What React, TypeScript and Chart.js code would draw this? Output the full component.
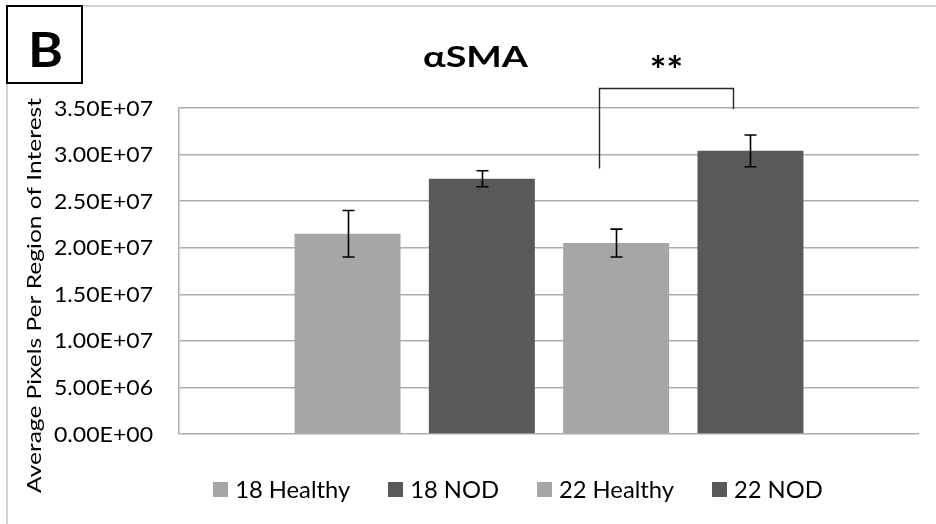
import React, { useEffect, useRef } from "react";
import { Chart, registerables } from "chart.js";

Chart.register(...registerables);

const categories = [""];
const seriesNames = ["18 Healthy", "18 NOD", "22 Healthy", "22 NOD"];
const seriesMeans = [2.15e7, 2.74e7, 2.05e7, 3.04e7];
const seriesErrors = [0.25e7, 0.086e7, 0.15e7, 0.17e7];
const seriesColors = ["#a6a6a6", "#595959", "#a6a6a6", "#595959"];
const yTicksMin = 0;
const yTicksMax = 3.5e7;
const yTicksStep = 5e6;
const chartTitle = "αSMA";
const panelLabel = "B";
const yAxisTitle = "Average Pixels Per Region of Interest";
// significance bracket between series 3 and 4 (data units)
const bracketFrom = 2;
const bracketTo = 3;
const bracketTop = 3.72e7;
const bracketLeftEnd = 2.85e7;
const bracketRightEnd = 3.49e7;
const bracketLabel = "**";

const FONT = "Lato, 'Open Sans', sans-serif";

function sci(v: number): string {
  if (v === 0) return "0.00E+00";
  const exp = Math.floor(Math.log10(Math.abs(v)));
  const mant = v / Math.pow(10, exp);
  const sign = exp < 0 ? "-" : "+";
  const e = Math.abs(exp).toString().padStart(2, "0");
  return mant.toFixed(2) + "E" + sign + e;
}

// Draw text with horizontal stretch sx; (x, cy) anchor; cy = vertical center of cap box
function drawText(
  ctx: CanvasRenderingContext2D,
  text: string,
  x: number,
  cy: number,
  font: string,
  sx: number,
  align: "left" | "center" | "right",
  rotate = 0
) {
  ctx.save();
  ctx.font = font;
  ctx.textAlign = "left";
  ctx.textBaseline = "alphabetic";
  const capM = ctx.measureText("H");
  const capH = capM.actualBoundingBoxAscent;
  const w = ctx.measureText(text).width;
  ctx.translate(x, cy);
  if (rotate) ctx.rotate(rotate);
  ctx.scale(sx, 1);
  let dx = 0;
  if (align === "center") dx = -w / 2;
  else if (align === "right") dx = -w;
  ctx.fillText(text, dx, capH / 2);
  ctx.restore();
}

function stretchFor(ctx: CanvasRenderingContext2D, text: string, font: string, target: number) {
  ctx.save();
  ctx.font = font;
  const w = ctx.measureText(text).width;
  ctx.restore();
  return target / w;
}

const decorPlugin = {
  id: "decor",
  afterDraw(chart: any) {
    const ctx: CanvasRenderingContext2D = chart.ctx;
    const yScale = chart.scales.y;
    ctx.save();

    // outer frame
    ctx.strokeStyle = "#c4c4c4";
    ctx.lineWidth = 1.5;
    ctx.strokeRect(7, 6, 1000, 1000);

    // panel label box
    ctx.fillStyle = "#fff";
    ctx.fillRect(7, 6, 75, 77);
    ctx.strokeStyle = "#000";
    ctx.lineWidth = 2;
    ctx.strokeRect(7, 6, 75, 77);
    ctx.fillStyle = "#000";
    const bFont = `bold 48px ${FONT}`;
    drawText(ctx, panelLabel, 45.5, 49.5, bFont, stretchFor(ctx, panelLabel, bFont, 35), "center");

    // title
    const tFont = `bold 28px ${FONT}`;
    drawText(ctx, chartTitle, 475.5, 56.5, tFont, stretchFor(ctx, chartTitle, tFont, 105), "center");

    // y tick labels
    const tickFont = `21px ${FONT}`;
    const tickSx = stretchFor(ctx, "3.50E+07", tickFont, 99);
    ctx.fillStyle = "#000";
    yScale.ticks.forEach((t: any, i: number) => {
      const y = yScale.getPixelForTick(i);
      drawText(ctx, sci(t.value), 153, y, tickFont, tickSx, "right");
    });

    // y axis title
    const yFont = `19px ${FONT}`;
    drawText(
      ctx,
      yAxisTitle,
      33.5,
      295.5,
      yFont,
      stretchFor(ctx, yAxisTitle, yFont, 395),
      "center",
      -Math.PI / 2
    );

    // error bars
    ctx.strokeStyle = "#000";
    ctx.lineWidth = 1.6;
    for (let i = 0; i < seriesMeans.length; i++) {
      const bar = chart.getDatasetMeta(i).data[0];
      if (!bar) continue;
      const x = Math.round(bar.x) + 0.5;
      const yt = yScale.getPixelForValue(seriesMeans[i] + seriesErrors[i]);
      const yb = yScale.getPixelForValue(seriesMeans[i] - seriesErrors[i]);
      ctx.beginPath();
      ctx.moveTo(x, yt);
      ctx.lineTo(x, yb);
      ctx.moveTo(x - 6, yt);
      ctx.lineTo(x + 6, yt);
      ctx.moveTo(x - 6, yb);
      ctx.lineTo(x + 6, yb);
      ctx.stroke();
    }

    // significance bracket
    const b1 = chart.getDatasetMeta(bracketFrom).data[0];
    const b2 = chart.getDatasetMeta(bracketTo).data[0];
    if (b1 && b2) {
      const xl = Math.round(b1.x - 17) + 0.5;
      const xr = Math.round(b2.x - 17) + 0.5;
      const yTop = Math.round(yScale.getPixelForValue(bracketTop)) + 0.5;
      ctx.strokeStyle = "#262626";
      ctx.lineWidth = 1.4;
      ctx.beginPath();
      ctx.moveTo(xl, yScale.getPixelForValue(bracketLeftEnd));
      ctx.lineTo(xl, yTop);
      ctx.lineTo(xr, yTop);
      ctx.lineTo(xr, yScale.getPixelForValue(bracketRightEnd));
      ctx.stroke();
      ctx.fillStyle = "#000";
      const sFont = `bold 30px ${FONT}`;
      ctx.save();
      ctx.font = sFont;
      ctx.textAlign = "center";
      ctx.textBaseline = "alphabetic";
      const m = ctx.measureText(bracketLabel);
      const sx = 31 / (m.actualBoundingBoxLeft + m.actualBoundingBoxRight);
      const cyStar = yTop - 26;
      ctx.translate((xl + xr) / 2, cyStar);
      ctx.scale(sx, 1.25);
      ctx.fillText(bracketLabel, 0, (m.actualBoundingBoxAscent - m.actualBoundingBoxDescent) / 2);
      ctx.restore();
    }

    // legend
    const lFont = `23px ${FONT}`;
    const lSx = stretchFor(ctx, "18 Healthy", lFont, 115);
    ctx.font = lFont;
    const box = 15;
    const gapBoxText = 7;
    const gapItems = 38;
    const widths = seriesNames.map((n) => ctx.measureText(n).width * lSx);
    const total =
      widths.reduce((a, w) => a + box + gapBoxText + w, 0) + gapItems * (seriesNames.length - 1);
    let x = 518 - total / 2;
    const cy = 489.5;
    for (let i = 0; i < seriesNames.length; i++) {
      ctx.fillStyle = seriesColors[i];
      ctx.fillRect(Math.round(x), cy - box / 2, box, box);
      x += box + gapBoxText;
      ctx.fillStyle = "#000";
      drawText(ctx, seriesNames[i], x, cy, lFont, lSx, "left");
      x += widths[i] + gapItems;
    }
    ctx.restore();
  },
};

export default function App() {
  const ref = useRef<HTMLCanvasElement | null>(null);
  useEffect(() => {
    document.body.style.margin = "0";
    const canvas = ref.current;
    if (!canvas) return;
    const chart = new Chart(canvas, {
      type: "bar",
      data: {
        labels: categories,
        datasets: seriesNames.map((name, i) => ({
          label: name,
          data: [seriesMeans[i]],
          backgroundColor: seriesColors[i],
          borderWidth: 0,
          categoryPercentage: 0.726,
          barPercentage: 0.789,
        })),
      },
      options: {
        responsive: false,
        maintainAspectRatio: false,
        devicePixelRatio: 1,
        animation: false,
        events: [],
        layout: { padding: { left: 8, right: 17, top: 108, bottom: 90 } },
        plugins: {
          legend: { display: false },
          title: { display: false },
          tooltip: { enabled: false },
        },
        scales: {
          x: { display: false },
          y: {
            min: yTicksMin,
            max: yTicksMax,
            afterFit(scale: any) {
              scale.width = 171;
            },
            ticks: {
              display: false,
              stepSize: yTicksStep,
              callback: (v: any) => sci(Number(v)),
            },
            grid: { color: "#adadad", lineWidth: 1.5, drawTicks: false },
            border: { display: true, color: "#adadad", width: 1.5 },
            title: { display: false, text: yAxisTitle },
          },
        },
      },
      plugins: [decorPlugin],
    });
    return () => chart.destroy();
  }, []);
  return <canvas ref={ref} width={936} height={524} style={{ display: "block" }} />;
}
